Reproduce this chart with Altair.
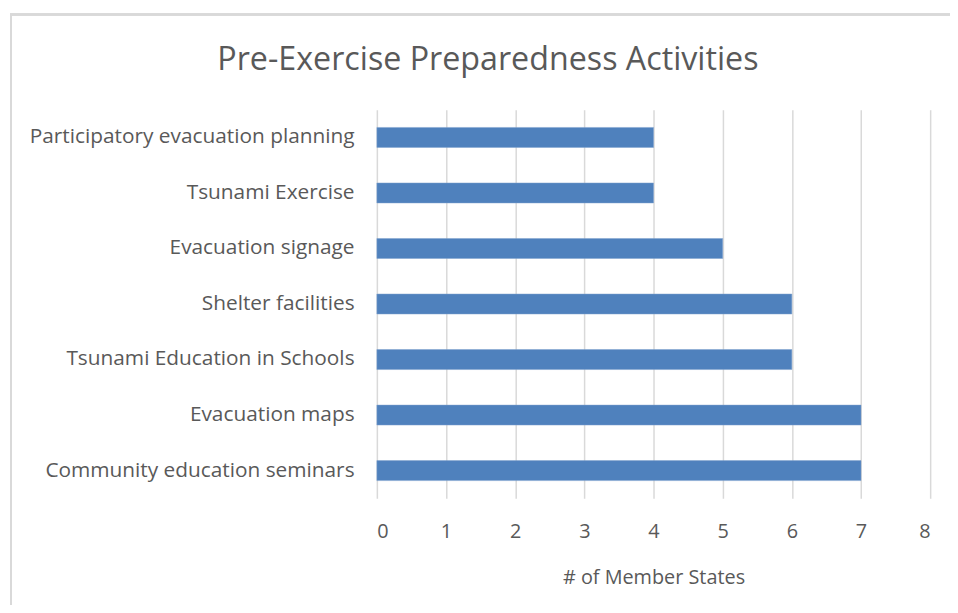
import altair as alt
import pandas as pd

categories = [
    "Participatory evacuation planning",
    "Tsunami Exercise",
    "Evacuation signage",
    "Shelter facilities",
    "Tsunami Education in Schools",
    "Evacuation maps",
    "Community education seminars",
]
values = [4, 4, 5, 6, 6, 7, 7]
title_text = ["Pre-Exercise Preparedness Activities"]

df = pd.DataFrame({"activity": categories, "states": values})
tdf = pd.DataFrame({"t": title_text})

FONT = "Open Sans"
GRAY = "#595959"
W, H = 558, 392

bars = alt.Chart(df).mark_bar(color="#4F81BD", stroke="#7EA2CF", strokeWidth=0.5).encode(
    y=alt.Y("activity:N", sort=categories, title=None,
            scale=alt.Scale(paddingInner=0.64, paddingOuter=0.32),
            axis=alt.Axis(labelFontSize=21, labelColor=GRAY, labelFont=FONT,
                          labelPadding=23, ticks=False, domain=False, labelLimit=400)),
    x=alt.X("states:Q", title="# of Member States",
            scale=alt.Scale(domain=[0, 8], nice=False),
            axis=alt.Axis(values=list(range(0, 9)), labelFontSize=20, labelColor=GRAY,
                          labelFont=FONT, labelPadding=23, ticks=False, domain=False,
                          grid=True, gridColor="#D9D9D9", gridWidth=1.5,
                          titleFontSize=20, titleColor=GRAY, titleFont=FONT,
                          titleFontWeight="normal", titlePadding=27)),
)

border = alt.Chart(df).mark_rect(fill=None, stroke="#D9D9D9", strokeWidth=2).encode(
    x=alt.value(-369), x2=alt.value(W + 200),
    y=alt.value(-96), y2=alt.value(H + 300),
)

title = alt.Chart(tdf).mark_text(font=FONT, fontSize=32.5, color=GRAY, baseline="alphabetic",
                                 align="center").encode(
    text="t:N", x=alt.value(112), y=alt.value(-40),
)

chart = alt.layer(border, bars, title).properties(
    width=W, height=H,
    padding={"left": 372, "top": 100, "right": 20, "bottom": 105},
    autosize=alt.AutoSizeParams(type="none"),
).configure_view(stroke=None)

chart.save("out.html", embed_options={"renderer": "svg", "actions": False})
